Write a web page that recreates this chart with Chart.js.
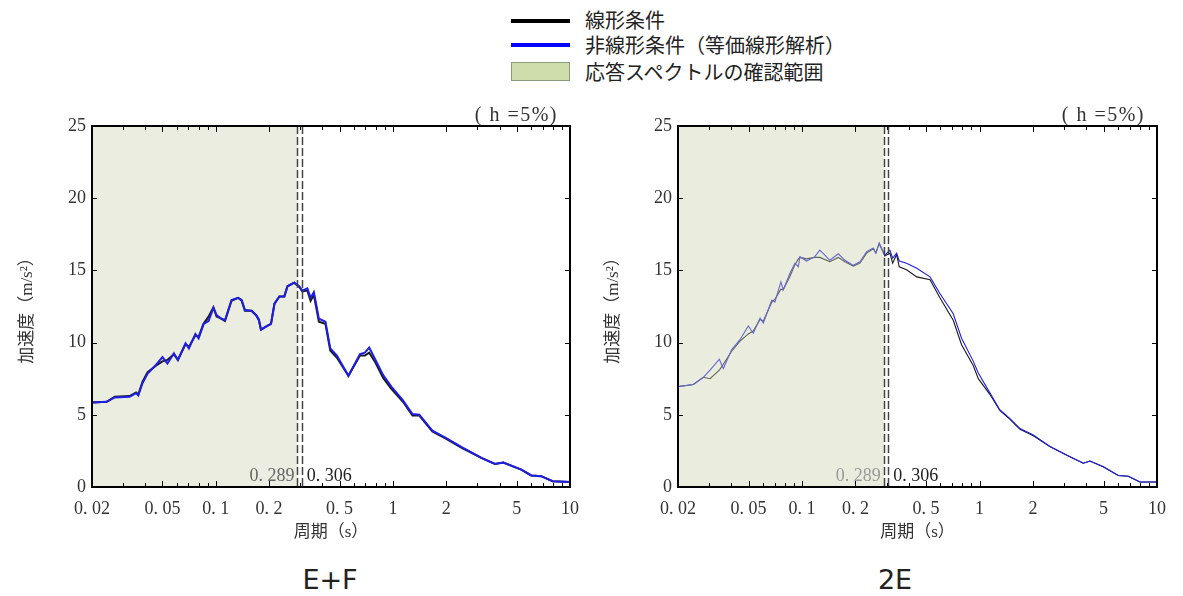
<!DOCTYPE html>
<html>
<head>
<meta charset="utf-8">
<script src="https://cdn.jsdelivr.net/npm/chart.js@4/dist/chart.umd.min.js"></script>
<style>
  body { margin: 0; width: 1183px; height: 596px; background: #fff; position: relative; overflow: hidden; font-family: "Noto Sans CJK JP", sans-serif; color: #222; }
  .lg { position: absolute; left: 511px; width: 59px; }
  .lgText { position: absolute; left: 585px; font-size: 20px; line-height: 24px; white-space: nowrap; }
  canvas { position: absolute; top: 100px; }
  .caption { position: absolute; top: 564px; font-family: "DejaVu Sans", sans-serif; font-size: 27px; width: 200px; text-align: center; }
</style>
</head>
<body>
<div class="lg" style="top:19px;height:4px;background:#000;"></div>
<div class="lgText" style="top:8px;">線形条件</div>
<div class="lg" style="top:43px;height:4px;background:#0000ff;"></div>
<div class="lgText" style="top:33px;">非線形条件（等価線形解析）</div>
<div class="lg" style="top:62px;height:17px;width:57px;background:#cfdcab;border:1px solid #8d9a78;"></div>
<div class="lgText" style="top:60px;">応答スペクトルの確認範囲</div>

<canvas id="chartEF" width="590" height="460" style="left:0px;"></canvas>
<canvas id="chart2E" width="593" height="460" style="left:590px;"></canvas>

<div class="caption" style="left:230px;">E+F</div>
<div class="caption" style="left:795px;">2E</div>

<script>
// 横軸（周期）の目盛
const xTickValues = [0.02, 0.05, 0.1, 0.2, 0.5, 1, 2, 5, 10];
const xTickLabels = ['0. 02', '0. 05', '0. 1', '0. 2', '0. 5', '1', '2', '5', '10'];

// 確認範囲と境界周期
const rangeStart = 0.02;
const rangeEnd = 0.289;
const markPeriods = [0.289, 0.306];
const markLabels = ['0. 289', '0. 306'];

// E+F
const efPeriod = [0.02, 0.0242, 0.0269, 0.0326, 0.0355, 0.0365, 0.0386, 0.0412, 0.0459, 0.05,
  0.0533, 0.058, 0.0611, 0.0675, 0.0705, 0.0767, 0.08, 0.0853, 0.091, 0.097,
  0.101, 0.106, 0.1127, 0.1227, 0.1337, 0.14, 0.146, 0.159, 0.169, 0.175,
  0.18, 0.192, 0.205, 0.2145, 0.2286, 0.2438, 0.254, 0.2773, 0.2958, 0.308,
  0.329, 0.343, 0.358, 0.382, 0.416, 0.443, 0.483, 0.561, 0.652, 0.695,
  0.735, 0.79, 0.881, 0.98, 1.14, 1.29, 1.41, 1.67, 1.99, 2.46,
  3.18, 3.77, 4.2, 5.31, 6.04, 6.87, 7.98, 10];
const efLinear = [5.85, 5.9, 6.25, 6.3, 6.55, 6.4, 7.3, 7.95, 8.4, 8.7,
  8.8, 9.2, 8.8, 9.9, 9.7, 10.5, 10.4, 11.3, 11.8, 12.45,
  11.8, 11.7, 11.5, 12.9, 13.1, 12.9, 12.2, 12.2, 11.9, 11.6,
  10.9, 11.1, 11.3, 12.7, 13.2, 13.2, 13.9, 14.15, 13.85, 13.55,
  13.6, 12.9, 13.3, 11.45, 11.3, 9.45, 8.95, 7.7, 9.1, 9.1,
  9.3, 8.7, 7.55, 6.8, 5.9, 4.95, 4.95, 3.85, 3.35, 2.7,
  2.0, 1.6, 1.7, 1.2, 0.8, 0.75, 0.4, 0.35];
const efNonlinear = [5.85, 5.9, 6.2, 6.25, 6.5, 6.35, 7.2, 7.85, 8.45, 9.0,
  8.55, 9.25, 8.8, 9.95, 9.6, 10.6, 10.3, 11.3, 11.5, 12.4,
  11.9, 11.7, 11.55, 12.95, 13.1, 12.95, 12.25, 12.2, 11.9, 11.55,
  10.9, 11.1, 11.3, 12.7, 13.2, 13.2, 13.9, 14.15, 13.9, 13.6,
  13.75, 13.1, 13.5, 11.65, 11.45, 9.6, 9.1, 7.7, 9.2, 9.3,
  9.65, 8.9, 7.75, 6.95, 6.0, 5.05, 5.0, 3.9, 3.4, 2.75,
  2.0, 1.6, 1.7, 1.2, 0.8, 0.75, 0.4, 0.35];

// 2E
const e2Period = [0.02, 0.0244, 0.0278, 0.0303, 0.0342, 0.036, 0.0401, 0.0447, 0.0498, 0.0531,
  0.058, 0.0605, 0.0675, 0.0703, 0.076, 0.0783, 0.0855, 0.0912, 0.0953, 0.0973,
  0.106, 0.118, 0.126, 0.1435, 0.16, 0.1745, 0.1945, 0.212, 0.2312, 0.2518,
  0.2606, 0.272, 0.293, 0.3126, 0.324, 0.341, 0.353, 0.388, 0.443, 0.526,
  0.598, 0.711, 0.792, 0.923, 0.984, 1.146, 1.30, 1.48, 1.69, 2.01,
  2.49, 3.23, 3.85, 4.19, 4.98, 6.05, 6.89, 8.02, 10];
const e2Linear = [6.95, 7.1, 7.6, 7.5, 8.1, 8.5, 9.4, 10.1, 10.6, 10.8,
  11.6, 11.5, 12.8, 13.0, 13.7, 13.65, 14.6, 15.4, 15.8, 15.9,
  15.8, 15.9, 15.9, 15.6, 15.9, 15.6, 15.3, 15.5, 16.2, 16.5,
  16.2, 16.85, 16.0, 16.2, 15.5, 16.1, 15.25, 15.05, 14.55, 14.35,
  13.1, 11.55, 9.85, 8.4, 7.5, 6.4, 5.3, 4.7, 4.0, 3.55,
  2.8, 2.1, 1.65, 1.8, 1.4, 0.8, 0.75, 0.35, 0.35];
const e2Nonlinear = [6.95, 7.1, 7.6, 8.1, 8.85, 8.2, 9.5, 10.2, 11.15, 10.65,
  11.7, 11.35, 12.95, 12.8, 14.2, 13.65, 14.8, 15.5, 15.25, 15.95,
  15.65, 15.95, 16.4, 15.7, 16.15, 15.7, 15.35, 15.6, 16.3, 16.55,
  16.2, 16.9, 16.05, 16.4, 15.85, 16.2, 15.65, 15.5, 15.15, 14.55,
  13.4, 12.0, 10.3, 8.7, 7.9, 6.5, 5.35, 4.75, 4.05, 3.6,
  2.8, 2.1, 1.65, 1.8, 1.4, 0.8, 0.75, 0.35, 0.35];

const serif = '"Liberation Serif", "Noto Sans CJK JP", serif';

function toPoints(xs, ys) {
  return xs.map((x, i) => ({ x: x, y: ys[i] }));
}

function drawShade(chart, color) {
  const { ctx, chartArea: a, scales: { x } } = chart;
  const x0 = x.getPixelForValue(rangeStart);
  const x1 = x.getPixelForValue(rangeEnd);
  ctx.save();
  ctx.fillStyle = color;
  ctx.fillRect(x0, a.top, x1 - x0, a.bottom - a.top);
  ctx.restore();
}

function panelPlugin(p) {
  return {
    id: 'panel',
    beforeDatasetsDraw(chart) {
      if (!p.overlay) drawShade(chart, '#eaeddf');
    },
    afterDatasetsDraw(chart) {
      const { ctx, chartArea: a, scales: { x, y } } = chart;
      if (p.overlay) drawShade(chart, 'rgba(202, 210, 172, 0.4)');
      ctx.save();

      // 境界周期の破線
      ctx.strokeStyle = '#444';
      ctx.lineWidth = 1.5;
      ctx.setLineDash([8, 3]);
      markPeriods.forEach(v => {
        const px = Math.round(x.getPixelForValue(v)) + 0.5;
        ctx.beginPath();
        ctx.moveTo(px, a.top);
        ctx.lineTo(px, a.bottom);
        ctx.stroke();
      });
      ctx.setLineDash([]);

      // 目盛（内向き）
      ctx.strokeStyle = '#000';
      ctx.lineWidth = 1;
      const minor = [];
      [0.01, 0.1, 1].forEach(d => {
        for (let k = 1; k <= 9; k++) {
          const v = +(d * k).toFixed(4);
          if (v >= 0.02 && v <= 10) minor.push(v);
        }
      });
      minor.push(10);
      minor.forEach(v => {
        const px = Math.round(x.getPixelForValue(v)) + 0.5;
        const len = xTickValues.includes(v) ? 6 : 4;
        ctx.beginPath();
        ctx.moveTo(px, a.top);
        ctx.lineTo(px, a.top + len);
        ctx.moveTo(px, a.bottom);
        ctx.lineTo(px, a.bottom - len);
        ctx.stroke();
      });
      [5, 10, 15, 20].forEach(v => {
        const py = Math.round(y.getPixelForValue(v)) + 0.5;
        ctx.beginPath();
        ctx.moveTo(a.left, py);
        ctx.lineTo(a.left + 5, py);
        ctx.moveTo(a.right, py);
        ctx.lineTo(a.right - 5, py);
        ctx.stroke();
      });

      // 枠
      ctx.lineWidth = 2;
      ctx.strokeRect(a.left, a.top, a.right - a.left, a.bottom - a.top);

      // 周期ラベル
      ctx.font = '18px ' + serif;
      ctx.textBaseline = 'middle';
      const ly = a.bottom - 11;
      ctx.fillStyle = p.grayLabel;
      ctx.textAlign = 'right';
      ctx.fillText(markLabels[0], x.getPixelForValue(markPeriods[0]) - 3, ly);
      ctx.fillStyle = '#222';
      ctx.textAlign = 'left';
      ctx.fillText(markLabels[1], x.getPixelForValue(markPeriods[1]) + 5, ly);

      // 減衰定数
      ctx.font = '20px ' + serif;
      ctx.letterSpacing = '1.5px';
      ctx.textAlign = 'right';
      ctx.fillStyle = '#333';
      ctx.fillText('( h =5%)', a.right - 12, a.top - 10);
      ctx.restore();
    }
  };
}

function buildChart(id, period, linear, nonlinear, p) {
  return new Chart(document.getElementById(id), {
    type: 'line',
    data: {
      datasets: [{
        label: '線形条件',
        data: toPoints(period, linear),
        borderColor: '#1a1a1a',
        borderWidth: p.lineWidth,
        pointRadius: 0,
        tension: 0,
        order: 1
      }, {
        label: '非線形条件（等価線形解析）',
        data: toPoints(period, nonlinear),
        borderColor: '#1e1ee6',
        borderWidth: p.lineWidth,
        pointRadius: 0,
        tension: 0,
        order: 0
      }]
    },
    options: {
      responsive: false,
      animation: false,
      layout: { padding: { top: 26, right: p.padRight, bottom: 0, left: 0 } },
      plugins: { legend: { display: false }, tooltip: { enabled: false } },
      scales: {
        x: {
          type: 'logarithmic',
          min: 0.02,
          max: 10,
          afterBuildTicks: s => { s.ticks = xTickValues.map(v => ({ value: v })); },
          afterFit: s => { s.height = 73; },
          grid: { display: false, drawTicks: false },
          border: { display: false },
          ticks: {
            autoSkip: false,
            maxRotation: 0,
            padding: 11,
            color: '#333',
            font: { family: serif, size: 18 },
            callback: (v, i) => xTickLabels[i]
          },
          title: {
            display: true,
            text: '周期（s）',
            color: '#333',
            font: { family: serif, size: 17 },
            padding: { top: 0, bottom: 17 }
          }
        },
        y: {
          min: 0,
          max: 25,
          afterFit: s => { s.width = p.yWidth; },
          grid: { display: false, drawTicks: false },
          border: { display: false },
          ticks: {
            stepSize: 5,
            padding: 6,
            color: '#333',
            font: { family: serif, size: 18 }
          },
          title: {
            display: true,
            text: '加速度（m/s²）',
            color: '#333',
            font: { family: serif, size: 17 },
            padding: { top: p.yTitlePad, bottom: 0 }
          }
        }
      }
    },
    plugins: [panelPlugin(p)]
  });
}

buildChart('chartEF', efPeriod, efLinear, efNonlinear,
  { lineWidth: 2, overlay: false, yWidth: 92, padRight: 14, yTitlePad: 17, grayLabel: '#666' });
buildChart('chart2E', e2Period, e2Linear, e2Nonlinear,
  { lineWidth: 1.1, overlay: true, yWidth: 88, padRight: 26, yTitlePad: 13, grayLabel: '#999' });
</script>
</body>
</html>
